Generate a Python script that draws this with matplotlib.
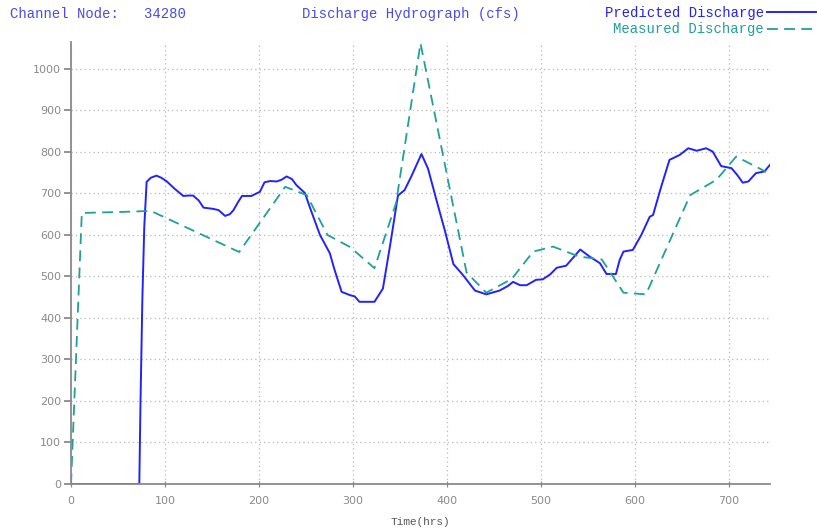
import matplotlib
matplotlib.use("Agg")
import matplotlib.pyplot as plt

# Predicted discharge (cfs) vs time (hrs)
pred_t = [0, 72.7, 74, 76, 78, 80.5, 85, 91, 96, 102, 110, 119.5, 125, 130, 136, 141, 151, 157,
          164, 169, 173, 178, 182, 192, 201, 206, 212, 219, 224, 229.5, 235, 240, 249, 254,
          265, 275.5, 280, 288, 297, 302, 307, 315, 323, 332, 340, 348, 355, 362, 373, 380,
          389, 398, 407, 417, 430, 442, 456, 465, 470.5, 478, 485, 495, 502, 510, 517, 527,
          534, 542, 552, 563, 570, 580, 584, 588, 598, 607, 616, 619.5, 628, 637, 648, 657,
          666, 676, 683, 692, 703, 709, 715, 721, 729, 738, 744]
pred_q = [0, 0, 200, 450, 620, 728, 738, 743, 738, 729, 712, 694, 695, 695, 683, 666, 663, 660,
          646, 650, 660, 680, 694, 694, 704, 727, 730, 729, 733, 741, 735, 720, 701, 668,
          600, 556, 520, 463, 455, 452, 439, 439, 439, 471, 580, 695, 708, 740, 795, 760,
          684, 610, 530, 504, 466, 457, 466, 477, 487, 479, 479, 492, 493, 505, 521, 526,
          544, 565, 548, 532, 506, 506, 540, 560, 564, 600, 644, 648, 715, 781, 793, 809,
          803, 809, 801, 766, 761, 745, 726, 729, 749, 753, 769]

# Measured discharge (cfs) vs time (hrs)
meas_t = [0, 11.5, 60, 85, 179, 228, 251, 273, 297, 323, 346, 372, 421, 442, 469, 492, 513,
          541, 565, 588, 612, 659, 687, 708, 740]
meas_q = [0, 653, 656, 658, 559, 716, 696, 600, 571, 520, 677, 1062, 510, 461, 494, 560, 572,
          548, 541, 461, 457, 696, 733, 789, 752]

x_ticks = [0, 100, 200, 300, 400, 500, 600, 700]
y_ticks = [0, 100, 200, 300, 400, 500, 600, 700, 800, 900, 1000]

pred_color = "#2222ff"
meas_color = "#20a09a"
mono = "Liberation Mono"

fig = plt.figure(figsize=(8.17, 5.31), dpi=100)
ax = fig.add_axes([71 / 817, 47 / 531, 699 / 817, 442 / 531])

ax.plot(pred_t, pred_q, color=pred_color, lw=1.4, label="Predicted Discharge")
ax.plot(meas_t, meas_q, color=meas_color, lw=1.3, dashes=(6, 3.5), label="Measured Discharge")

ax.set_xlim(0, 744)
ax.set_ylim(0, 1065)
ax.set_xticks(x_ticks)
ax.set_yticks(y_ticks)
ax.grid(True, color="#b8b8b8", linestyle=(0, (1, 2.5)), linewidth=0.9)

for side in ("top", "right"):
    ax.spines[side].set_visible(False)
for side in ("left", "bottom"):
    ax.spines[side].set_color("#8a8a8a")
    ax.spines[side].set_linewidth(1.3)

ax.tick_params(axis="y", direction="out", length=5, width=1.3, color="#8a8a8a",
               labelcolor="#8a8a8a", labelsize=8, pad=2)
ax.tick_params(axis="x", direction="inout", length=5, width=0.9, color="#8a8a8a",
               labelcolor="#8a8a8a", labelsize=8, pad=6)

ax.set_xlabel("Time(hrs)", family=mono, fontsize=8, color="#555555", labelpad=8)

fig.text(10 / 817, 1 - 14 / 531, "Channel Node:   34280", family=mono, fontsize=10,
         color="#4a4aee", va="center", ha="left")
fig.text(411 / 817, 1 - 14 / 531, "Discharge Hydrograph (cfs)", family=mono, fontsize=10,
         color="#4a4aee", va="center", ha="center")

leg = fig.legend(loc="upper right", bbox_to_anchor=(1.009, 1.005), markerfirst=False,
                 frameon=False, prop={"family": mono, "size": 10}, handlelength=3.5,
                 handletextpad=0.25, labelspacing=0.2, borderaxespad=0.2,
                 labelcolor=[pred_color, meas_color])

fig.savefig("out.png", dpi=100)
